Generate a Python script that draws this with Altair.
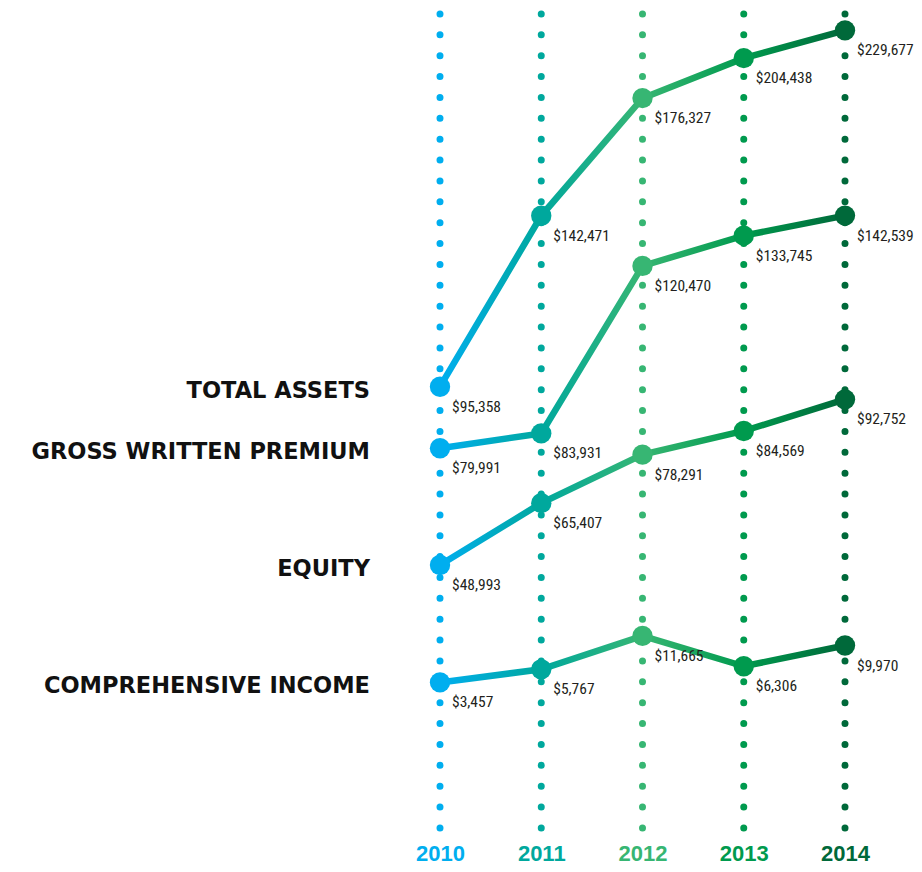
import altair as alt
import pandas as pd

years = [2010, 2011, 2012, 2013, 2014]
year_colors = ["#00AEEF", "#00A89D", "#37B673", "#009A4E", "#00693A"]
series = ["TOTAL ASSETS", "GROSS WRITTEN PREMIUM", "EQUITY", "COMPREHENSIVE INCOME"]
total_assets = [95358, 142471, 176327, 204438, 229677]
gross_written_premium = [79991, 83931, 120470, 133745, 142539]
equity = [48993, 65407, 78291, 84569, 92752]
comprehensive_income = [3457, 5767, 11665, 6306, 9970]

rows = []
for name, vals in zip(series, [total_assets, gross_written_premium, equity, comprehensive_income]):
    for yr, v in zip(years, vals):
        rows.append({"series": name, "year": yr, "value": v})
df = pd.DataFrame(rows)
years_df = pd.DataFrame({"year": years})

# label colour expression for the year axis
expr = "'#000'"
for yr, c in reversed(list(zip(years, year_colors))):
    expr = f"datum.value === {yr} ? '{c}' : ({expr})"

xscale = alt.Scale(domain=[2010, 2014], range=[432, 837])
# broken (piecewise linear) value scale, as in the infographic
yscale = alt.Scale(domain=[3000, 12000, 48000, 92000, 120000, 145000, 180000, 240000],
                   range=[671, 620, 554.7, 389, 253, 196, 71, 5], zero=False, nice=False)
cscale = alt.Scale(domain=years, range=year_colors)

xaxis = alt.Axis(values=years, format="d", domain=False, ticks=False, grid=False, title=None,
                 labelFont="Liberation Sans", labelFontWeight="bold", labelFontSize=22,
                 labelColor={"expr": expr}, labelPadding=32, labelBaseline="alphabetic",
                 labelFlush=False, labelOverlap=False)
X = alt.X("year:Q", scale=xscale, axis=xaxis)
Y = alt.Y("value:Q", scale=yscale, axis=None)

grad = alt.Gradient(gradient="linear", x1=0, x2=1, y1=0, y2=0,
                    stops=[alt.GradientStop(offset=i / 4, color=c) for i, c in enumerate(year_colors)])

rules = alt.Chart(years_df).mark_rule(strokeWidth=7, strokeDash=[0, 20.87], strokeCap="round").encode(
    x=X, color=alt.Color("year:N", scale=cscale, legend=None))

base = alt.Chart(df).encode(x=X, y=Y)
lines = base.mark_line(strokeWidth=6.5, stroke=grad).encode(detail="series:N")
points = base.mark_circle(size=415, opacity=1).encode(color=alt.Color("year:N", scale=cscale, legend=None))
vlabels = base.mark_text(align="left", baseline="alphabetic", dx=12, dy=25,
                         font="Liberation Sans Narrow, Noto Sans Condensed, Roboto Condensed, DejaVu Sans Condensed, sans-serif",
                         fontSize=15.5, color="#231F20").encode(
    text=alt.Text("value:Q", format="$,.0f"))
slabels = base.mark_text(align="right", baseline="alphabetic", dx=-70, dy=11,
                         font="DejaVu Sans", fontWeight="bold", fontSize=22.5, color="#111111").encode(
    text="series:N").transform_filter(alt.datum.year == 2010)

chart = alt.layer(rules, lines, points, vlabels, slabels).properties(
    width=906, height=814,
    autosize=alt.AutoSizeParams(type="none"),
    padding={"left": 0, "right": 0, "top": 6, "bottom": 36},
).configure_view(stroke=None)

chart.save("out.html", embed_options={"renderer": "svg", "actions": False})
